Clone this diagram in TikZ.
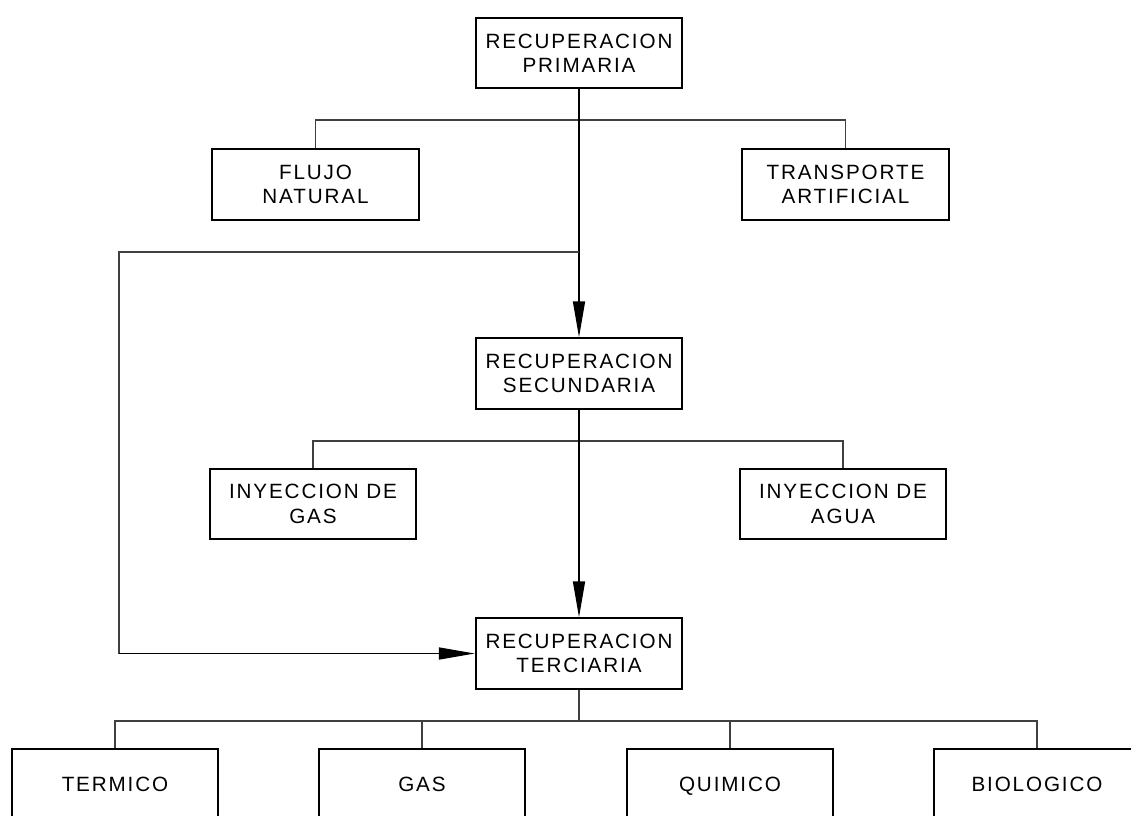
\documentclass[tikz,border=0pt]{standalone}
\usepackage{fontspec}
\newfontfamily\cadfont{Liberation Sans}[LetterSpace=9]
\usetikzlibrary{arrows.meta}
\tikzset{
  box/.style={draw=black, line width=1.3pt, minimum width=155pt, minimum height=53pt,
    inner sep=0pt, align=center, font=\cadfont\fontsize{15.5}{18.3}\selectfont},
  leaf/.style={box, text height=11.5pt, text depth=0pt},
  wire/.style={draw=black!75, line width=0.8pt},
  flow/.style={draw=black, line width=1.2pt, -{Triangle[length=27pt,width=9pt]}},
}
\begin{document}
\begin{tikzpicture}[x=0.75pt,y=-0.75pt]
\useasboundingbox (0,0) rectangle (1131,815);
\clip (0,0) rectangle (1131,815);
% nodes
\node[box] (pri) at (579,53) {RECUPERACION\\PRIMARIA};
\node[box] (flu) at (315.5,184.5) {FLUJO\\NATURAL};
\node[box] (tra) at (845.5,184.5) {TRANSPORTE\\ARTIFICIAL};
\node[box] (sec) at (579,373.5) {RECUPERACION\\SECUNDARIA};
\node[box] (gas) at (313,504) {INYECCION DE\\GAS};
\node[box] (agu) at (843,504) {INYECCION DE\\AGUA};
\node[box] (ter) at (579,653.5) {RECUPERACION\\TERCIARIA};
\node[leaf] (b1) at (115,784) {TERMICO};
\node[leaf] (b2) at (422,784) {GAS};
\node[leaf] (b3) at (730,784) {QUIMICO};
\node[leaf] (b4) at (1037,784) {BIOLOGICO};
% coordinates
\coordinate (j1) at (579,120);
\coordinate (j2) at (579,252);
\coordinate (loopA) at (119,252);
\coordinate (loopB) at (119,653.5);
\coordinate (j3) at (579,441);
\coordinate (j4) at (579,721);
% primary level
\draw[wire] (flu.north) |- (j1) -| (tra.north);
\draw[flow] (pri.south) -- (sec.north);
\draw[wire] (j2) -- (loopA) -- (loopB);
\draw[flow] (loopB) -- (ter.west);
% secondary level
\draw[wire] (gas.north) |- (j3) -| (agu.north);
\draw[flow] (sec.south) -- (ter.north);
% tertiary level
\draw[wire] (ter.south) -- (j4);
\draw[wire] (b1.north) |- (j4) -| (b4.north);
\draw[wire] (b2.north) -- (b2.north |- j4);
\draw[wire] (b3.north) -- (b3.north |- j4);
\end{tikzpicture}
\end{document}
